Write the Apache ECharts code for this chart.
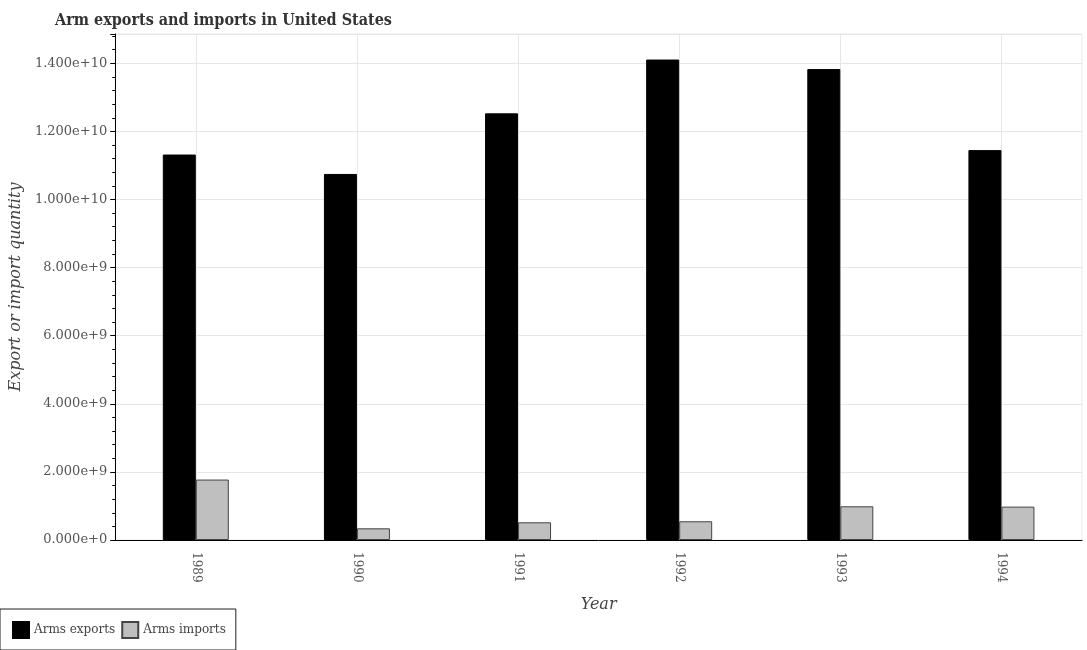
<!DOCTYPE html>
<html>
<head>
<meta charset="utf-8">
<script src="https://cdn.jsdelivr.net/npm/echarts@6/dist/echarts.min.js"></script>
<style>html,body{margin:0;padding:0;background:#fff}#c{width:1087px;height:650px}</style>
</head>
<body>
<div id="c"></div>
<script>
const years = ['1989', '1990', '1991', '1992', '1993', '1994'];
const armsExports = [1.132e10, 1.075e10, 1.253e10, 1.411e10, 1.383e10, 1.145e10];
const armsImports = [1.775e9, 3.43e8, 5.2e8, 5.5e8, 9.9e8, 9.8e8];

const serif = 'DejaVu Serif';
const chart = echarts.init(document.getElementById('c'), null, {renderer: 'canvas'});
chart.setOption({
  animation: false,
  backgroundColor: '#fff',
  title: {
    text: 'Arm exports and imports in United States',
    left: 50, top: 8,
    textStyle: {fontFamily: 'DejaVu Serif Condensed', fontWeight: 'bold', fontSize: 16, color: '#333'}
  },
  grid: {left: 104, right: 5, top: 34, bottom: 110, show: true, borderColor: '#e8e8e8', borderWidth: 1},
  legend: {
    left: 0, bottom: 0,
    orient: 'horizontal',
    itemWidth: 16, itemHeight: 16, itemGap: 6,
    padding: [12, 10, 11, 12],
    borderColor: '#222', borderWidth: 1,
    textStyle: {fontFamily: serif, fontSize: 12, color: '#444'},
    data: [{name: 'Arms exports', icon: 'rect'}, {name: 'Arms imports', icon: 'rect'}]
  },
  xAxis: {
    type: 'category',
    data: years,
    name: 'Year',
    nameLocation: 'middle',
    nameGap: 57,
    nameTextStyle: {fontFamily: serif, fontStyle: 'italic', fontSize: 16, color: '#444'},
    axisLine: {lineStyle: {color: '#000', width: 1}},
    axisTick: {alignWithLabel: true, length: 5, lineStyle: {color: '#000'}},
    axisLabel: {rotate: -90, fontFamily: serif, fontSize: 12, color: '#555', margin: 12},
    splitLine: {show: true, alignWithLabel: true, lineStyle: {color: '#e6e6e6'}}
  },
  yAxis: {
    type: 'value',
    min: 0, max: 1.486e10, interval: 2e9,
    name: 'Export or import quantity',
    nameLocation: 'middle',
    nameGap: 83,
    nameTextStyle: {fontFamily: serif, fontStyle: 'italic', fontSize: 16, color: '#444'},
    axisLine: {show: true, lineStyle: {color: '#000', width: 1}},
    axisTick: {show: true, length: 5, lineStyle: {color: '#000'}},
    minorTick: {show: true, splitNumber: 5, length: 3, lineStyle: {color: '#000'}},
    axisLabel: {
      fontFamily: serif, fontSize: 13, color: '#555', margin: 8,
      showMaxLabel: false,
      formatter: v => v.toExponential(3)
    },
    splitLine: {show: true, lineStyle: {color: '#e6e6e6'}}
  },
  series: [
    {
      name: 'Arms exports', type: 'bar', data: armsExports,
      barWidth: 33, barGap: '0%',
      itemStyle: {color: '#000', borderColor: '#000', borderWidth: 1}
    },
    {
      name: 'Arms imports', type: 'bar', data: armsImports,
      barWidth: 33, barGap: '0%',
      itemStyle: {color: '#bfbfbf', borderColor: '#444', borderWidth: 1}
    }
  ]
});
</script>
</body>
</html>
